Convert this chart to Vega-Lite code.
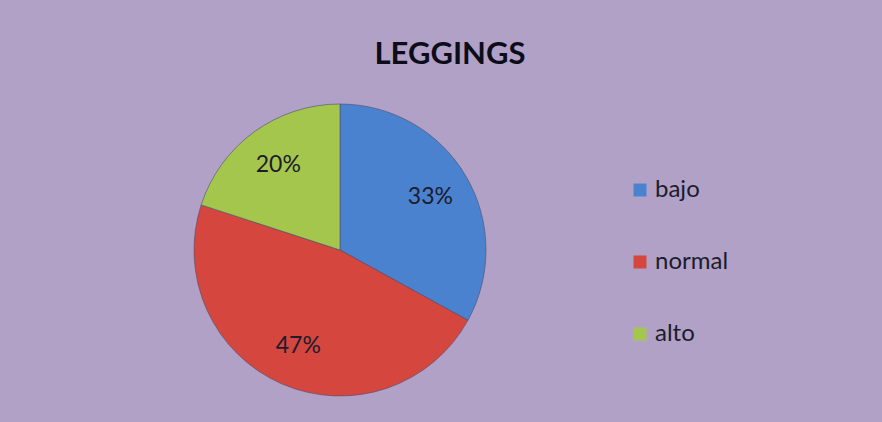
{
  "$schema": "https://vega.github.io/schema/vega-lite/v6.json",
  "width": 300,
  "height": 300,
  "autosize": {"type": "none"},
  "padding": {"left": 190, "top": 100, "right": 392, "bottom": 22},
  "background": "#B1A1C7",
  "view": {"stroke": null},
  "title": {
    "text": "LEGGINGS",
    "font": "Lato",
    "fontSize": 31,
    "fontWeight": "bold",
    "color": "#0d0d1a",
    "anchor": "middle",
    "dx": 110,
    "offset": 29
  },
  "data": {
    "values": [
      {"categoria": "bajo", "orden": 1, "porcentaje": 0.33},
      {"categoria": "normal", "orden": 2, "porcentaje": 0.47},
      {"categoria": "alto", "orden": 3, "porcentaje": 0.20}
    ]
  },
  "encoding": {
    "theta": {"field": "porcentaje", "type": "quantitative", "stack": true},
    "order": {"field": "orden", "type": "quantitative", "sort": "ascending"}
  },
  "layer": [
    {
      "mark": {"type": "arc", "outerRadius": 146, "stroke": "#4a4f6a", "strokeWidth": 0.6},
      "encoding": {
        "color": {
          "field": "categoria",
          "type": "nominal",
          "sort": ["bajo", "normal", "alto"],
          "scale": {"domain": ["bajo", "normal", "alto"], "range": ["#4A82D0", "#D5463F", "#A5C64C"]},
          "legend": {
            "title": null,
            "orient": "none",
            "legendX": 438,
            "legendY": 78,
            "padding": 0,
            "symbolType": "square",
            "symbolSize": 169,
            "symbolStrokeWidth": 0,
            "labelFont": "Lato",
            "labelFontSize": 24,
            "labelColor": "#1c1c2c",
            "labelOffset": 3,
            "rowPadding": 48
          }
        }
      }
    },
    {
      "mark": {"type": "text", "radius": 105, "font": "Lato", "fontSize": 23, "color": "#1c1c2c"},
      "encoding": {
        "text": {"field": "porcentaje", "type": "quantitative", "format": ".0%"}
      }
    }
  ]
}
